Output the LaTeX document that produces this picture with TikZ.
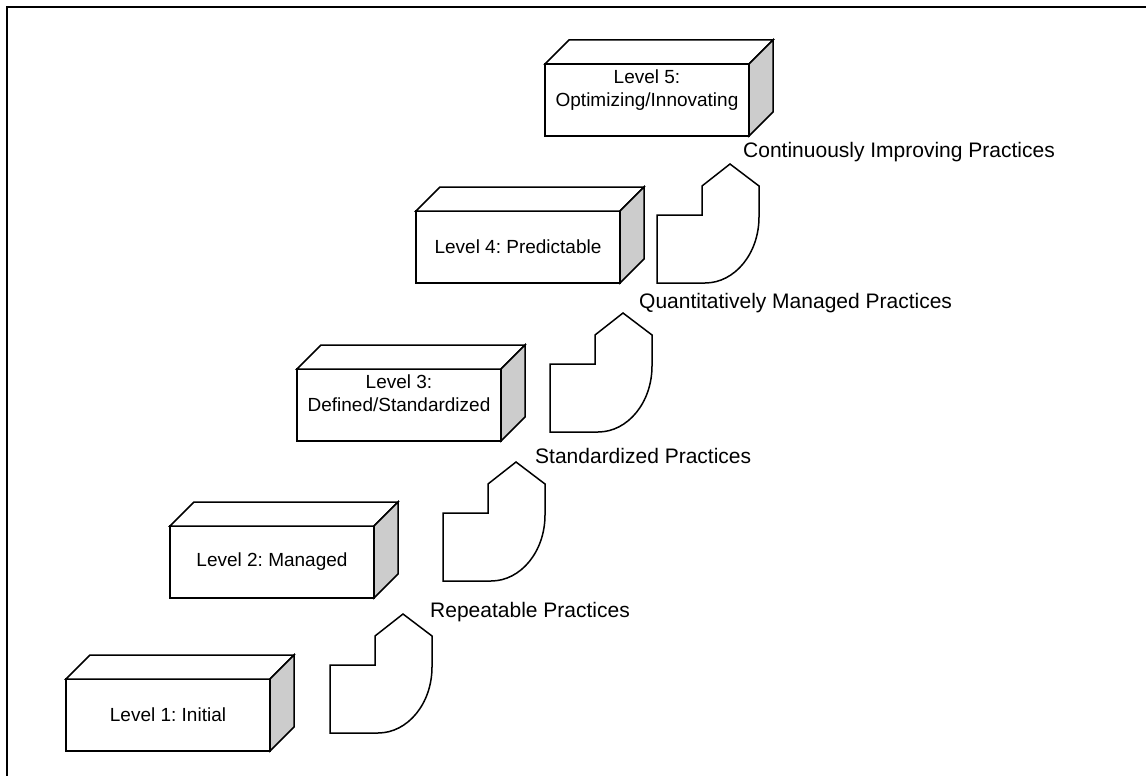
\documentclass[tikz,border=0pt]{standalone}
\usepackage{fontspec}
\setmainfont{Liberation Sans}
\usepackage{tikz}
\usepackage{xcolor}
\usetikzlibrary{positioning}
\definecolor{sidegray}{HTML}{CCCCCC}
\frenchspacing

\begin{document}
\begin{tikzpicture}[
            x=1pt, y=-1pt,
            every node/.style={font=\fontsize{19}{23}\selectfont},
            levelbox/.style={draw, line width=1.5pt, fill=white, outer sep=0pt,
                minimum width=204, minimum height=72, anchor=north west, align=center},
            practice/.style={anchor=base west, inner sep=0pt, font=\fontsize{21}{25}\selectfont},
            stepshape/.pic={
                \draw[line width=1.5pt, fill=white] (0,0) -- (0,-68) -- (45,-68) -- (45,-97)
                    -- (73,-119) -- (102,-97) -- (102,-66)
                    .. controls (102,-29.5) and (77.8,0) .. (48,0) -- cycle;
            }
        ]
        \useasboundingbox (0,0) rectangle (1146,776);
        \draw[line width=2.5pt] (7,776) -- (7,7) -- (1146,7);
        % levels
        \node[levelbox] (l1) at (66,679) {Level 1: Initial};
        \node[levelbox] (l2) at (170,526) {Level 2: Managed};
        \node[levelbox] (l3) at (297,369) {Level 3:\\Defined/Standardized\\~};
        \node[levelbox] (l4) at (416,211) {Level 4: Predictable};
        \node[levelbox] (l5) at (545,64) {Level 5:\\Optimizing/Innovating\\~};
        \foreach \b in {l1,l2,l3,l4,l5} {
            \draw[line width=1.5pt, fill=white] (\b.north west) -- ++(24,-24) -- ++(204,0) -- (\b.north east) -- cycle;
            \draw[line width=1.5pt, fill=sidegray] (\b.north east) -- ++(24,-24) -- ++(0,72) -- (\b.south east) -- cycle;
        }
        % steps
        \pic at (330,733) {stepshape};
        \pic at (443,581) {stepshape};
        \pic at (550,432) {stepshape};
        \pic at (657,283) {stepshape};
        % practices
        \node[practice] (rep) at (430,617) {Repeatable Practices};
        \node[practice] (std) at (535,463) {Standardized Practices};
        \node[practice] (qnt) at (639,308) {Quantitatively Managed Practices};
        \node[practice] (imp) at (743,157) {Continuously Improving Practices};
\end{tikzpicture}
\end{document}
